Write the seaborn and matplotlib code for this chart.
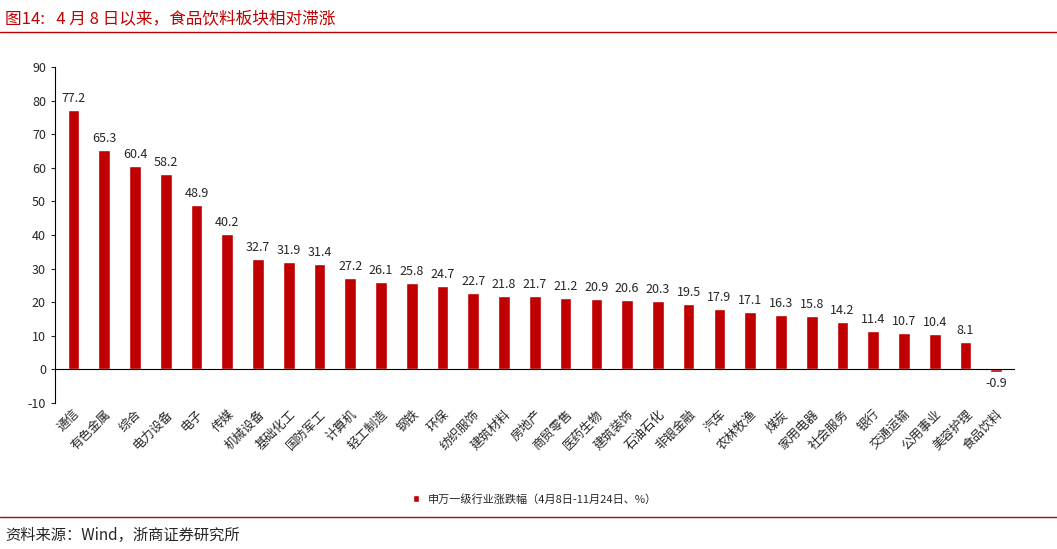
import matplotlib.pyplot as plt
import seaborn as sns
import pandas as pd

industries = ['通信', '有色金属', '综合', '电力设备', '电子', '传媒', '机械设备', '基础化工', '国防军工',
              '计算机', '轻工制造', '钢铁', '环保', '纺织服饰', '建筑材料', '房地产', '商贸零售', '医药生物',
              '建筑装饰', '石油石化', '非银金融', '汽车', '农林牧渔', '煤炭', '家用电器', '社会服务',
              '银行', '交通运输', '公用事业', '美容护理', '食品饮料']
changes = [77.2, 65.3, 60.4, 58.2, 48.9, 40.2, 32.7, 31.9, 31.4, 27.2, 26.1, 25.8, 24.7, 22.7, 21.8,
           21.7, 21.2, 20.9, 20.6, 20.3, 19.5, 17.9, 17.1, 16.3, 15.8, 14.2, 11.4, 10.7, 10.4, 8.1, -0.9]
series_name = '申万一级行业涨跌幅（4月8日-11月24日、%）'

sns.set_style('white')
plt.rcParams['font.family'] = ['Noto Sans CJK SC', 'DejaVu Sans']
plt.rcParams['axes.unicode_minus'] = False

df = pd.DataFrame({'industry': industries, 'change': changes})
red = '#C00000'

fig = plt.figure(figsize=(10.57, 5.49), dpi=100)
ax = fig.add_axes([0.052, 0.266, 0.908, 0.612])
sns.barplot(data=df, x='industry', y='change', color=red, width=0.38, ax=ax,
            saturation=1, label=series_name)

for i, v in enumerate(changes):
    ax.text(i, v + 1.5 if v >= 0 else v - 1.5, f'{v:.1f}', ha='center',
            va='bottom' if v >= 0 else 'top', fontsize=9)

ax.set_ylim(-10, 90)
ax.set_yticks(range(-10, 91, 10))
ax.set_xlim(-0.6, len(industries) - 0.4)
ax.set_xlabel('')
ax.set_ylabel('')
ax.axhline(0, color='black', lw=0.8)
for s in ['top', 'right', 'bottom']:
    ax.spines[s].set_visible(False)
ax.spines['left'].set_color('black')
ax.spines['left'].set_linewidth(0.8)
ax.tick_params(axis='y', labelsize=9, left=True, length=3, width=0.8)
ax.tick_params(axis='x', labelsize=9, bottom=False, length=0)
plt.setp(ax.get_xticklabels(), rotation=45, ha='right', rotation_mode='anchor')

ax.legend(loc='upper center', bbox_to_anchor=(0.5, -0.24), frameon=False, fontsize=8,
          handlelength=0.6, handleheight=0.6)

fig.text(0.005, 0.965, '图14:   4 月 8 日以来，食品饮料板块相对滞涨', color=red, fontsize=12, va='center')
fig.add_artist(plt.Line2D([0, 1], [0.942, 0.942], color=red, lw=1))
fig.add_artist(plt.Line2D([0, 1], [0.058, 0.058], color=red, lw=1))
fig.text(0.005, 0.025, '资料来源：Wind，浙商证券研究所', fontsize=11, va='center')

fig.savefig('out.png', dpi=100)
